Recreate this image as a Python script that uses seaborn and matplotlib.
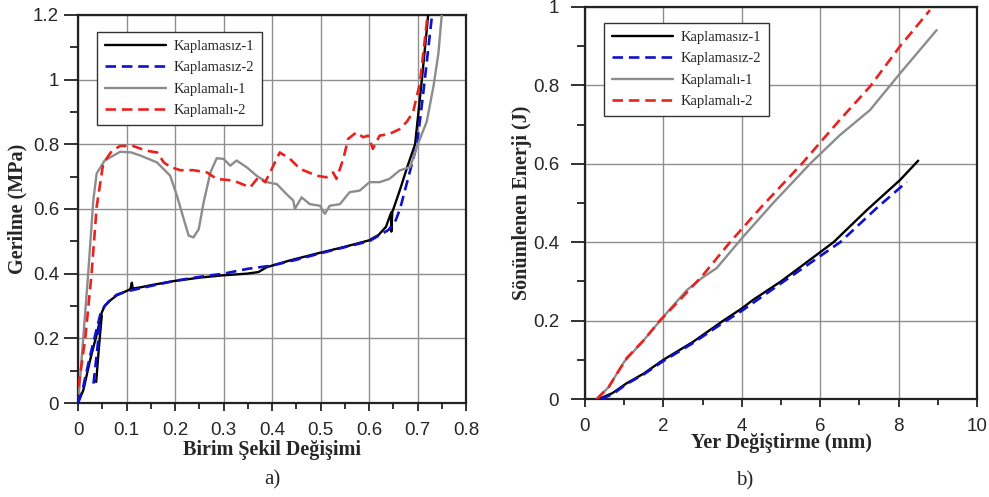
import matplotlib
matplotlib.use("Agg")
import matplotlib.pyplot as plt
import seaborn as sns
import numpy as np
import pandas as pd
from matplotlib.ticker import MultipleLocator, FuncFormatter

sns.set_style("white")
plt.rcParams['font.family'] = ['Liberation Sans', 'DejaVu Sans']

# ---------------- Panel a) data ----------------
labels = ["Kaplamasız-1", "Kaplamasız-2", "Kaplamalı-1", "Kaplamalı-2"]

a_k1_x = [0.0, 0.011, 0.025, 0.039, 0.049, 0.055, 0.067, 0.08, 0.095, 0.108, 0.111, 0.113, 0.13, 0.149,
          0.197, 0.252, 0.30, 0.348, 0.372, 0.389, 0.437, 0.492, 0.547, 0.60, 0.62, 0.635, 0.646, 0.646,
          0.648, 0.664, 0.68, 0.695, 0.709, 0.722]
a_k1_y = [0.0, 0.04, 0.133, 0.215, 0.28, 0.30, 0.318, 0.333, 0.343, 0.352, 0.372, 0.354, 0.358, 0.364,
          0.377, 0.388, 0.395, 0.40, 0.405, 0.42, 0.441, 0.462, 0.482, 0.503, 0.52, 0.545, 0.59, 0.53,
          0.59, 0.66, 0.735, 0.80, 1.0, 1.2]
a_k1b_x = [0.0375, 0.043, 0.049]
a_k1b_y = [0.065, 0.17, 0.27]

a_k2_x = [0.0, 0.01, 0.024, 0.037, 0.047, 0.055, 0.067, 0.08, 0.10, 0.15, 0.20, 0.25, 0.30, 0.35, 0.40,
          0.45, 0.50, 0.55, 0.60, 0.64, 0.655, 0.664, 0.678, 0.699, 0.712, 0.73]
a_k2_y = [0.0, 0.045, 0.14, 0.22, 0.28, 0.30, 0.32, 0.335, 0.345, 0.362, 0.378, 0.39, 0.40, 0.415, 0.425,
          0.443, 0.463, 0.482, 0.50, 0.535, 0.565, 0.60, 0.68, 0.80, 0.96, 1.2]
a_k2b_x = [0.032, 0.04, 0.046]
a_k2b_y = [0.06, 0.17, 0.26]

a_c1_x = [0.002, 0.021, 0.0316, 0.0385, 0.055, 0.087, 0.11, 0.129, 0.163, 0.19, 0.204, 0.218, 0.228, 0.238,
          0.249, 0.259, 0.273, 0.286, 0.30, 0.314, 0.327, 0.348, 0.368, 0.389, 0.41, 0.43, 0.444, 0.447,
          0.461, 0.478, 0.499, 0.509, 0.519, 0.54, 0.56, 0.581, 0.601, 0.622, 0.642, 0.663, 0.685, 0.698,
          0.719, 0.733, 0.743, 0.75]
a_c1_y = [0.03, 0.40, 0.628, 0.71, 0.75, 0.777, 0.775, 0.765, 0.744, 0.703, 0.641, 0.569, 0.518, 0.512,
          0.538, 0.62, 0.713, 0.757, 0.755, 0.734, 0.75, 0.729, 0.703, 0.683, 0.677, 0.646, 0.626, 0.60,
          0.636, 0.615, 0.61, 0.585, 0.61, 0.615, 0.652, 0.657, 0.683, 0.683, 0.693, 0.719, 0.73, 0.79,
          0.87, 0.98, 1.08, 1.2]

a_c2_x = [0.001, 0.015, 0.028, 0.0385, 0.052, 0.07, 0.087, 0.113, 0.142, 0.163, 0.177, 0.19, 0.211, 0.238,
          0.266, 0.286, 0.32, 0.355, 0.372, 0.386, 0.396, 0.416, 0.437, 0.458, 0.492, 0.512, 0.526, 0.533,
          0.547, 0.557, 0.574, 0.588, 0.598, 0.608, 0.622, 0.642, 0.663, 0.678, 0.691, 0.705, 0.72]
a_c2_y = [0.05, 0.2, 0.40, 0.607, 0.741, 0.78, 0.795, 0.795, 0.78, 0.775, 0.744, 0.73, 0.72, 0.72,
          0.713, 0.693, 0.688, 0.667, 0.698, 0.683, 0.713, 0.775, 0.755, 0.724, 0.703, 0.698, 0.713, 0.693,
          0.755, 0.817, 0.837, 0.822, 0.827, 0.786, 0.827, 0.832, 0.847, 0.87, 0.90, 0.99, 1.19]

# ---------------- Panel b) data ----------------
b_k1_x = [0.35, 0.7, 1.06, 1.5, 2.0, 2.76, 3.53, 4.0, 4.29, 5.0, 6.34, 7.19, 8.04, 8.5]
b_k1_y = [0.0, 0.015, 0.04, 0.065, 0.1, 0.146, 0.2, 0.231, 0.253, 0.3, 0.4, 0.482, 0.559, 0.608]
b_k2_x = [0.4, 0.7, 1.06, 1.5, 2.0, 2.76, 3.53, 4.0, 5.0, 6.51, 7.44, 8.21]
b_k2_y = [0.0, 0.012, 0.038, 0.063, 0.097, 0.143, 0.195, 0.225, 0.295, 0.4, 0.487, 0.554]
b_c1_x = [0.3, 0.6, 1.0, 1.5, 2.0, 2.6, 3.0, 3.36, 4.0, 4.8, 5.74, 6.5, 7.27, 8.04, 8.97]
b_c1_y = [0.0, 0.03, 0.095, 0.15, 0.21, 0.278, 0.31, 0.334, 0.41, 0.5, 0.6, 0.673, 0.737, 0.831, 0.941]
b_c2_x = [0.3, 0.6, 1.06, 1.5, 1.91, 2.42, 3.0, 3.7, 4.5, 5.53, 6.5, 7.27, 8.03, 8.8]
b_c2_y = [0.0, 0.03, 0.104, 0.15, 0.2, 0.253, 0.315, 0.4, 0.49, 0.6, 0.712, 0.797, 0.899, 0.992]

colors = ["#000000", "#1010d0", "#8c8c8c", "#e8231f"]
dash = (0, (4, 2.2))
styles = ["-", dash, "-", dash]
widths = [1.7, 1.9, 1.7, 1.9]

fig = plt.figure(figsize=(9.89, 4.97), dpi=100)
axA = fig.add_axes([78/989, 94/497, 388/989, 388/497])
axB = fig.add_axes([585/989, 98/497, 392/989, 392/497])

serif = ['Liberation Serif', 'DejaVu Serif']

def draw(ax, series, extras):
    for (x, y), lab, c, ls, lw in zip(series, labels, colors, styles, widths):
        sns.lineplot(x=x, y=y, ax=ax, color=c, linestyle=ls, linewidth=lw, label=lab,
                     sort=False, estimator=None, zorder=3)
    for (x, y), c, ls, lw in extras:
        sns.lineplot(x=x, y=y, ax=ax, color=c, linestyle=ls, linewidth=lw, legend=False,
                     sort=False, estimator=None, zorder=3)

draw(axA, [(a_k1_x, a_k1_y), (a_k2_x, a_k2_y), (a_c1_x, a_c1_y), (a_c2_x, a_c2_y)],
     [((a_k1b_x, a_k1b_y), colors[0], "-", widths[0]),
      ((a_k2b_x, a_k2b_y), colors[1], dash, widths[1])])
draw(axB, [(b_k1_x, b_k1_y), (b_k2_x, b_k2_y), (b_c1_x, b_c1_y), (b_c2_x, b_c2_y)], [])

fmt = FuncFormatter(lambda v, p: "%g" % round(v, 3))

def style(ax, xlim, ylim, xmaj, xmin, ymaj, ymin, xlabel, ylabel, ypad, xl_y, yl_x):
    ax.set_xlim(*xlim)
    ax.set_ylim(*ylim)
    ax.xaxis.set_major_locator(MultipleLocator(xmaj))
    ax.xaxis.set_minor_locator(MultipleLocator(xmin))
    ax.yaxis.set_major_locator(MultipleLocator(ymaj))
    ax.yaxis.set_minor_locator(MultipleLocator(ymin))
    ax.xaxis.set_major_formatter(fmt)
    ax.yaxis.set_major_formatter(fmt)
    ax.grid(True, which='major', color='#8f8f8f', linewidth=1.0, zorder=0)
    ax.set_axisbelow(True)
    for s in ax.spines.values():
        s.set_visible(True)
        s.set_color('#222222')
        s.set_linewidth(1.6)
    ax.tick_params(axis='x', which='major', direction='out', length=6, width=1.3, color='#222222',
                   labelsize=13.5, pad=7.5, bottom=True, top=False)
    ax.tick_params(axis='x', which='minor', direction='out', length=4, width=1.3, color='#222222',
                   bottom=True, top=False)
    ax.tick_params(axis='y', which='major', direction='out', length=10, width=1.3, color='#222222',
                   labelsize=13.5, pad=ypad, left=True, right=False)
    ax.tick_params(axis='y', which='minor', direction='out', length=6, width=1.3, color='#222222',
                   left=True, right=False)
    ax.set_xlabel(xlabel, fontsize=14.5, fontweight='bold', family=serif)
    ax.set_ylabel(ylabel, fontsize=14.5, fontweight='bold', family=serif)
    ax.xaxis.set_label_coords(0.5, xl_y)
    ax.yaxis.set_label_coords(yl_x, 0.5)

style(axA, (0, 0.8), (0, 1.2), 0.1, 0.05, 0.2, 0.1, "Birim Şekil Değişimi", "Gerilme (MPa)",
      3.6, (403 - 440) / 388, (27 - 78) / 388)
style(axB, (0, 10), (0, 1.0), 2, 1, 0.2, 0.1, "Yer Değiştirme (mm)", "Sönümlenen Enerji (J)",
      8.6, (399 - 433) / 392, (532 - 585) / 392)

for ax, anchor in [(axA, ((97 - 78) / 388, (403 - 32) / 388)), (axB, ((604 - 585) / 392, (399 - 23) / 392))]:
    leg = ax.legend(loc='upper left', bbox_to_anchor=anchor, borderaxespad=0,
                    prop={'family': serif, 'size': 10.5},
                    handlelength=4.2, handletextpad=0.5, labelspacing=0.55, borderpad=0.55,
                    frameon=True, fancybox=False, edgecolor='#333333', framealpha=1)
    leg.get_frame().set_linewidth(1.0)

fig.text(272/989, 1 - 480/497, "a)", ha='center', va='center', fontsize=15, family=serif)
fig.text(745/989, 1 - 481/497, "b)", ha='center', va='center', fontsize=15, family=serif)

fig.savefig("out.png", dpi=100)
